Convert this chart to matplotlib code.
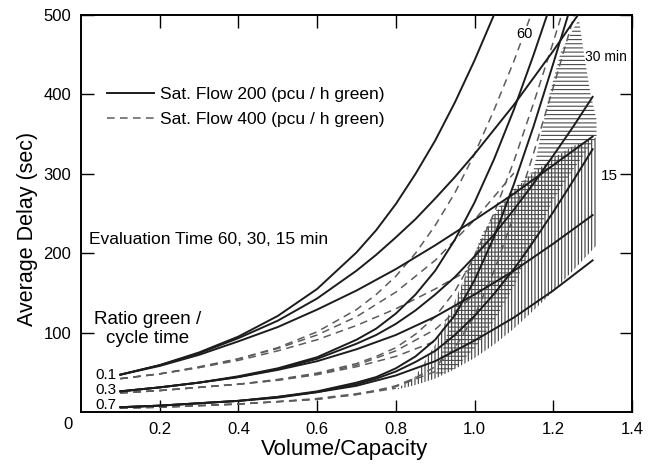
import matplotlib
matplotlib.use("Agg")
import matplotlib.pyplot as plt

# volume/capacity grids: coarse one, and a finer one for the steep curves
vc = [0.1, 0.2, 0.3, 0.4, 0.5, 0.6, 0.7, 0.8, 0.9, 1.0, 1.1, 1.2, 1.3]
vc_fine = [0.1, 0.2, 0.3, 0.4, 0.5, 0.6, 0.7, 0.75, 0.8, 0.85, 0.9, 0.95,
           1.0, 1.05, 1.1, 1.15, 1.2, 1.25, 1.3]

# Sat. flow 200 (solid) - average delay in sec, ratio green/cycle 0.1, 0.3, 0.7
s200_g01_t60 = [47, 59, 75, 95, 121, 155, 201, 229, 262, 300, 342, 390, 443, 501, 562]
s200_g01_t30 = [47, 59, 74, 93, 115, 143, 178, 198, 220, 243, 269, 296, 325, 356,
                387, 421, 455, 491, 527]
s200_g01_t15 = [47, 58, 72, 89, 107, 129, 153, 180, 210, 242, 275, 311, 347]
s200_g03_t60 = [26, 31, 37, 45, 55, 69, 91, 105, 124, 148, 178, 217, 264, 319,
                381, 450, 523]
s200_g03_t30 = [26, 31, 37, 44, 54, 67, 86, 97, 111, 128, 148, 170, 196, 224,
                255, 288, 323, 359, 397]
s200_g03_t15 = [26, 31, 37, 44, 53, 64, 79, 97, 120, 148, 178, 212, 248]
s200_g07_t60 = [6, 8, 11, 14, 19, 26, 37, 44, 55, 70, 91, 122, 166, 221, 287,
                360, 439, 520]
s200_g07_t30 = [6, 8, 11, 14, 19, 25, 35, 42, 51, 63, 77, 97, 121, 149, 180,
                215, 252, 291, 331]
s200_g07_t15 = [6, 8, 11, 14, 18, 25, 33, 46, 64, 90, 119, 153, 191]

# Sat. flow 400 (dashed)
s400_g01_t60 = [42, 48, 57, 67, 81, 101, 129, 148, 171, 200, 235, 276, 325, 381,
                442, 509]
s400_g01_t30 = [42, 48, 56, 67, 80, 97, 120, 151, 191, 242, 301]
s400_g01_t15 = [42, 48, 56, 65, 77, 91, 109, 130, 155, 183]
s400_g03_t60 = [24, 27, 31, 35, 41, 49, 61, 70, 81, 98, 120, 152, 196, 251,
                316, 389, 466, 547]
s400_g03_t30 = [24, 27, 31, 35, 40, 48, 59, 77, 104, 148]
s400_g03_t15 = [24, 27, 31, 35, 40, 47, 57, 70, 89]
s400_g07_t60 = [5, 6, 8, 10, 13, 17, 23, 27, 33, 43, 57, 81, 121, 178, 248,
                326, 409, 494, 580]
s400_g07_t30 = [5, 6, 8, 10, 13, 16, 22, 32, 51]
s400_g07_t15 = [5, 6, 8, 10, 13, 16, 22, 30]

# hatched areas (outline)
band30_x = [0.9, 0.94, 0.98, 1.02, 1.06, 1.1, 1.15, 1.19, 1.22, 1.265,
            1.28, 1.295, 1.31,
            1.31, 1.25, 1.2, 1.15, 1.1, 1.05, 1.0, 0.95, 0.9]
band30_y = [45, 115, 175, 225, 258, 282, 305, 400, 455, 495,
            445, 400, 368,
            346, 305, 267, 215, 158, 115, 80, 55, 45]
band15_x = [0.8, 0.85, 0.9, 0.95, 1.0, 1.05, 1.1, 1.15, 1.2, 1.25, 1.31,
            1.31, 1.25, 1.2, 1.15, 1.1, 1.05, 1.0, 0.95, 0.9, 0.85, 0.8]
band15_y = [28, 34, 42, 54, 68, 85, 105, 128, 152, 178, 210,
            346, 335, 320, 302, 280, 248, 200, 140, 85, 45, 28]

ratio_labels = ["0.1", "0.3", "0.7"]
ratio_label_y = [47, 28, 9]

plt.rcParams["font.family"] = ["Liberation Sans", "DejaVu Sans"]
plt.rcParams["hatch.linewidth"] = 0.8

fig = plt.figure(figsize=(6.53, 4.68), dpi=100)
ax = fig.add_axes([0.124, 0.1197, 0.8438, 0.848])

ink = "#1c1c1c"
grey = "#5c5c5c"

ax.fill(band15_x, band15_y, facecolor="none", edgecolor="#3a3a3a",
        hatch="|||||", linewidth=0, zorder=1)
ax.fill(band30_x, band30_y, facecolor="none", edgecolor="#4a4a4a",
        hatch="----", linewidth=0, zorder=1)

solid = [s200_g01_t60, s200_g01_t30, s200_g01_t15,
         s200_g03_t60, s200_g03_t30, s200_g03_t15,
         s200_g07_t60, s200_g07_t30, s200_g07_t15]
dashed = [s400_g01_t60, s400_g01_t30, s400_g01_t15,
          s400_g03_t60, s400_g03_t30, s400_g03_t15,
          s400_g07_t60, s400_g07_t30, s400_g07_t15]
steep = {id(c) for c in [s200_g01_t60, s200_g01_t30, s200_g03_t60, s200_g03_t30,
                         s200_g07_t60, s200_g07_t30, s400_g01_t60, s400_g03_t60,
                         s400_g07_t60]}


def xs(y):
    grid = vc_fine if id(y) in steep else vc
    return grid[:len(y)]


for i, y in enumerate(solid):
    lab = "Sat. Flow 200 (pcu / h green)" if i == 0 else None
    ax.plot(xs(y), y, color=ink, lw=1.4, zorder=3, label=lab)
for i, y in enumerate(dashed):
    lab = "Sat. Flow 400 (pcu / h green)" if i == 0 else None
    ax.plot(xs(y), y, color=grey, lw=1.1, dashes=(5, 3.5), zorder=2, label=lab)

ax.set_xlim(0, 1.4)
ax.set_ylim(0, 500)
ax.set_xticks([0.2, 0.4, 0.6, 0.8, 1.0, 1.2, 1.4])
ax.set_xticklabels(["0.2", "0.4", "0.6", "0.8", "1.0", "1.2", "1.4"])
ax.set_yticks([100, 200, 300, 400, 500])
ax.tick_params(direction="in", length=9, width=1, top=True, right=True,
               labelsize=12, pad=7)
for s in ax.spines.values():
    s.set_linewidth(1.4)
ax.text(-0.024, -0.032, "0", transform=ax.transAxes, fontsize=12,
        ha="center", va="center")

ax.set_xlabel("Volume/Capacity", fontsize=16)
ax.set_ylabel("Average Delay (sec)", fontsize=15.5)
ax.xaxis.set_label_coords(0.479, -0.068)
ax.yaxis.set_label_coords(-0.078, 0.46)

ax.legend(loc="center left", bbox_to_anchor=(0.047, 0.769), frameon=False,
          fontsize=12.5, handlelength=2.7, handletextpad=0.35,
          labelspacing=0.55, borderpad=0, borderaxespad=0)

ax.text(0.02, 217, "Evaluation Time 60, 30, 15 min", fontsize=12.5, va="center")
ax.text(0.17, 105, "Ratio green /\ncycle time", fontsize=13.5, ha="center",
        va="center", linespacing=1.15)
for lab, y in zip(ratio_labels, ratio_label_y):
    ax.text(0.09, y, lab, fontsize=11, ha="right", va="center")

ax.text(1.127, 476, "60", fontsize=10.5, ha="center", va="center",
        bbox=dict(facecolor="white", edgecolor="none", pad=1), zorder=4)
ax.text(1.335, 447, "30 min", fontsize=10, ha="center", va="center", zorder=4)
ax.text(1.32, 297, "15", fontsize=11, ha="left", va="center", zorder=4)

fig.savefig("out.png", dpi=100)
